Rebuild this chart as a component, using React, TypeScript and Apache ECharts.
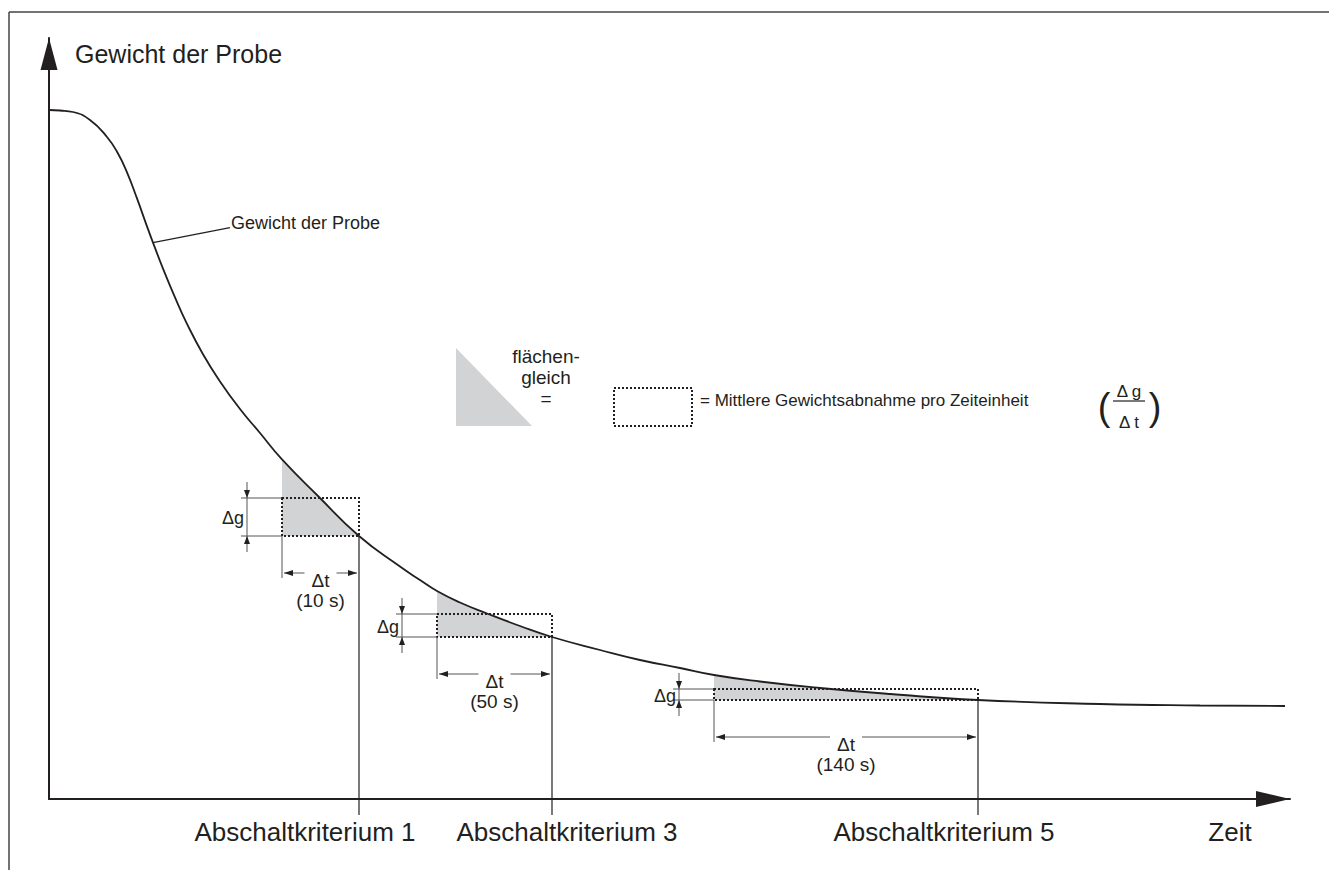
import React, { useEffect, useRef } from "react";
import * as echarts from "echarts";

const FONT = '"Liberation Sans", Arial, Helvetica, sans-serif';
const INK = "#231f20";
const GRAY = "#d2d3d5";

// Weight curve (time units, weight units)
const curveTime = [0, 11, 24, 41, 58, 69, 78, 88, 98, 104, 114, 126, 138, 154, 171, 191, 211, 233, 269, 310, 351, 371, 388, 411, 438, 471, 503, 551, 591, 631, 665, 711, 771, 841, 929, 1051, 1151, 1236];
const curveWeight = [689, 688.5, 687, 679, 662, 645.5, 626.6, 600.6, 572.6, 556.4, 530.4, 501.6, 475.2, 444.8, 417.6, 390, 366, 339.6, 303, 263, 232.5, 219, 208, 196.5, 185.5, 173, 162, 149, 139, 131, 124, 117.5, 111, 105, 99, 95, 93.5, 93];

// Switch-off criteria: averaging interval and mean-decrease rectangle
const intervalStart = [233, 388, 665];
const intervalEnd = [310, 503, 929];
const rectTop = [301, 185, 110];
const rectBottom = [263, 162, 99];
const criterionLabels = ["Abschaltkriterium 1", "Abschaltkriterium 3", "Abschaltkriterium 5"];
const deltaTLabels = ["(10 s)", "(50 s)", "(140 s)"];

const calloutPoint = [104, 556.4];
const calloutText = "Gewicht der Probe";
const yAxisTitle = "Gewicht der Probe";
const xAxisTitle = "Zeit";
const legendTexts = ["flächen-", "gleich", "="];
const legendMeaning = "= Mittlere Gewichtsabnahme pro Zeiteinheit";

const X_MAX = 1241;
const Y_MAX = 761;

function line(x1: number, y1: number, x2: number, y2: number, w = 1, color = INK) {
  return { type: "line", silent: true, shape: { x1, y1, x2, y2 }, style: { stroke: color, lineWidth: w } };
}
function head(tx: number, ty: number, dx: number, dy: number, len = 8, half = 3) {
  return {
    type: "polygon",
    silent: true,
    shape: {
      points: [
        [tx, ty],
        [tx - dx * len - dy * half, ty - dy * len + dx * half],
        [tx - dx * len + dy * half, ty - dy * len - dx * half],
      ],
    },
    style: { fill: INK },
  };
}
function text(x: number, y: number, t: string, fontSize: number, align = "center") {
  return {
    type: "text",
    silent: true,
    x,
    y,
    style: { text: t, fontSize, fontFamily: FONT, fill: INK, align, verticalAlign: "middle" },
  };
}

export default function App() {
  const ref = useRef<HTMLDivElement>(null);
  useEffect(() => {
    const chart = echarts.init(ref.current!, null, { renderer: "svg" });
    const labelOffset = [-54, 15, -34];

    const criteriaData = intervalStart.map((s, i) => [s, intervalEnd[i], rectTop[i], rectBottom[i], i]);

    const option: any = {
      animation: false,
      backgroundColor: "#ffffff",
      grid: { left: 49, right: 39, top: 38, bottom: 71 },
      xAxis: {
        type: "value",
        min: 0,
        max: X_MAX,
        axisLine: {
          show: true,
          symbol: ["none", "triangle"],
          symbolSize: [16, 34],
          symbolOffset: [0, -17],
          lineStyle: { color: INK, width: 2 },
        },
        axisTick: { show: false },
        axisLabel: { show: false },
        splitLine: { show: false },
      },
      yAxis: {
        type: "value",
        min: 0,
        max: Y_MAX,
        axisLine: {
          show: true,
          symbol: ["none", "triangle"],
          symbolSize: [17, 32],
          symbolOffset: [0, -16],
          lineStyle: { color: INK, width: 2 },
        },
        axisTick: { show: false },
        axisLabel: { show: false },
        splitLine: { show: false },
      },
      graphic: [
        line(9, 12, 1329, 12, 1.5, "#444"),
        line(9, 12, 9, 870, 1.5, "#444"),
        text(75, 54, yAxisTitle, 25, "left"),
        text(1230, 832, xAxisTitle, 26),
        {
          type: "polygon",
          silent: true,
          shape: { points: [[456, 348], [456, 426], [532, 426]] },
          style: { fill: GRAY },
        },
        text(546, 356, legendTexts[0], 19),
        text(546, 377, legendTexts[1], 19),
        text(546, 398, legendTexts[2], 19),
        {
          type: "rect",
          silent: true,
          shape: { x: 614, y: 388, width: 78, height: 38 },
          style: { fill: "none", stroke: INK, lineWidth: 2, lineDash: [2, 2] },
        },
        text(700, 400, legendMeaning, 17, "left"),
        text(1104, 407, "(", 38),
        text(1155, 407, ")", 38),
        text(1129, 391, "Δ g", 17),
        line(1113, 401, 1145, 401, 1.2),
        text(1129, 422, "Δ t", 17),
      ],
      series: [
        {
          type: "custom",
          z: 1,
          clip: false,
          silent: true,
          encode: { x: [0, 1], y: [2, 3] },
          data: criteriaData,
          renderItem: (params: any, api: any) => {
            const s = api.value(0);
            const e = api.value(1);
            const top = api.value(2);
            const bot = api.value(3);
            const i = api.value(4);
            const [x0, yTop] = api.coord([s, top]);
            const [x1, yBot] = api.coord([e, bot]);
            const yAx = api.coord([0, 0])[1];
            const pts: number[][] = [];
            curveTime.forEach((t, k) => {
              if (t >= s && t <= e) pts.push(api.coord([t, curveWeight[k]]));
            });
            pts.push([x0, yBot]);
            const xd = x0 - 35;
            const ya = yBot + 37;
            const xc = (x0 + x1) / 2;
            const gap = 16;
            const children: any[] = [
              { type: "polygon", silent: true, shape: { points: pts }, style: { fill: GRAY } },
              {
                type: "rect",
                silent: true,
                shape: { x: x0, y: yTop, width: x1 - x0, height: yBot - yTop },
                style: { fill: "none", stroke: INK, lineWidth: 2, lineDash: [2, 2] },
              },
              // criterion line
              line(x1, yBot, x1, yAx + 16, 1.2),
              // delta g dimension
              line(xd - 6, yTop, x0, yTop, 1, "#555"),
              line(xd - 6, yBot, x0, yBot, 1, "#555"),
              line(xd, yTop - 16, xd, yBot + 16, 1, "#555"),
              head(xd, yTop, 0, 1, 8, 3),
              head(xd, yBot, 0, -1, 8, 3),
              text(xd - 3, (yTop + yBot) / 2 + 1, "Δg", 18, "right"),
              // delta t dimension
              line(x0, yBot, x0, ya + 5, 1, "#555"),
              line(x0 + 2, ya, xc - gap, ya, 1, "#555"),
              line(xc + gap, ya, x1 - 2, ya, 1, "#555"),
              head(x0 + 2, ya, -1, 0, 9, 3),
              head(x1 - 2, ya, 1, 0, 9, 3),
              text(xc, ya + 7, "Δt", 19),
              text(xc, ya + 27, deltaTLabels[i], 19),
              // criterion label
              text(x1 + labelOffset[i], yAx + 33, criterionLabels[i], 26),
            ];
            return { type: "group", children };
          },
        },
        {
          type: "line",
          z: 3,
          clip: false,
          silent: true,
          data: curveTime.map((t, k) => [t, curveWeight[k]]),
          smooth: 0.5,
          showSymbol: false,
          symbol: "none",
          lineStyle: { color: INK, width: 1.8 },
        },
        {
          type: "custom",
          z: 2,
          clip: false,
          silent: true,
          data: [calloutPoint],
          renderItem: (params: any, api: any) => {
            const [px, py] = api.coord([api.value(0), api.value(1)]);
            return {
              type: "group",
              children: [line(px, py, px + 77, py - 15, 1.2), text(px + 78, py - 20, calloutText, 18, "left")],
            };
          },
        },
      ],
    };
    chart.setOption(option);
    return () => chart.dispose();
  }, []);
  return (
    <div
      ref={ref}
      style={{ position: "fixed", left: 0, top: 0, width: 1329, height: 870, background: "#fff" }}
    />
  );
}
